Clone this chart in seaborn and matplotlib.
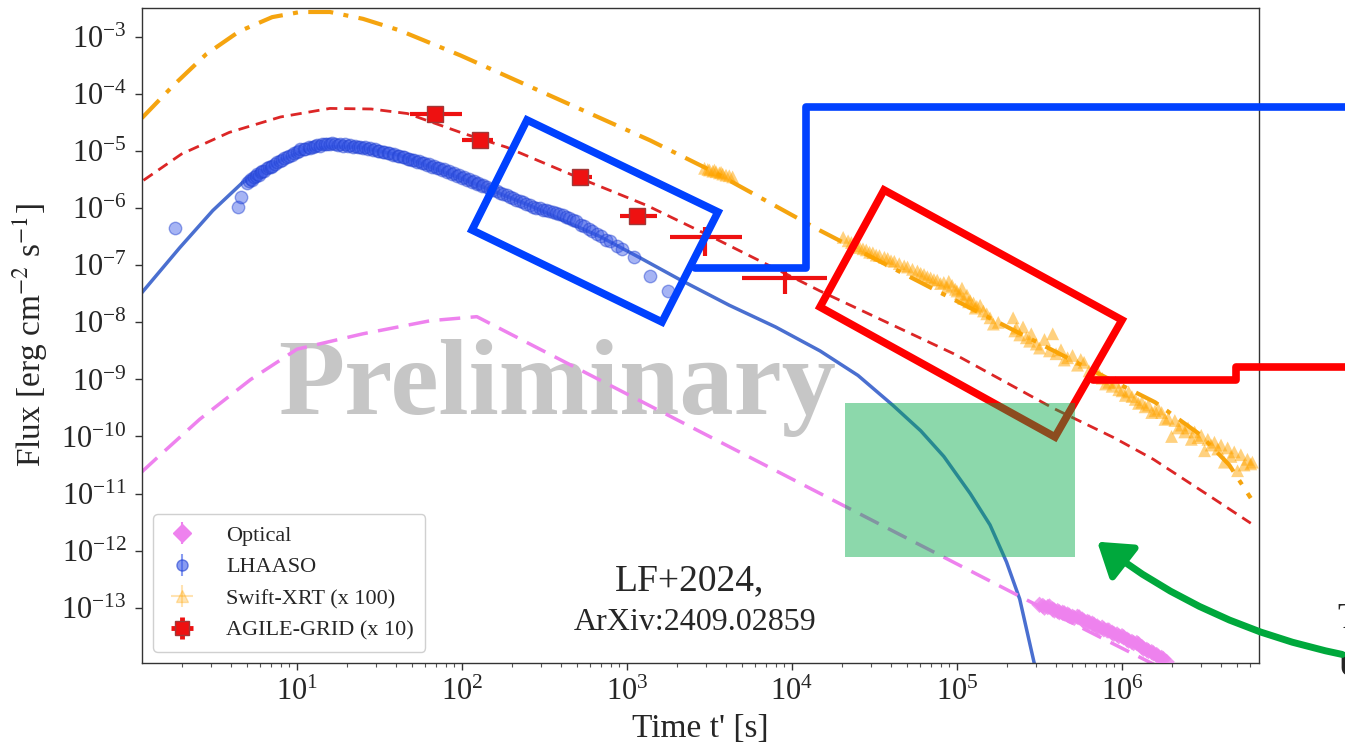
import numpy as np
import matplotlib
matplotlib.use("Agg")
import matplotlib.pyplot as plt
import seaborn as sns
from matplotlib.patches import Polygon, Rectangle, FancyArrowPatch
from matplotlib.lines import Line2D
from matplotlib.ticker import LogLocator, NullLocator

# ---------------- data (log10 of time [s] and log10 of flux) ----------------
# model curves
xrt_model_logt = [0.06, 0.25, 0.45, 0.65, 0.85, 1.02, 1.20, 1.40, 1.62, 1.99, 2.53, 3.14, 3.53, 4.17, 4.96, 5.79, 6.20, 6.47, 6.65, 6.78]
xrt_model_logf = [-4.42, -3.85, -3.30, -2.90, -2.65, -2.56, -2.56, -2.68, -2.88, -3.32, -4.02, -4.81, -5.37, -6.39, -7.57, -8.80, -9.40, -9.96, -10.50, -11.08]

agile_model_logt = [0.07, 0.30, 0.59, 0.90, 1.20, 1.45, 1.67, 2.01, 2.27, 2.72, 3.12, 3.52, 4.17, 4.98, 5.58, 5.95, 6.19, 6.55, 6.78]
agile_model_logf = [-5.51, -5.05, -4.67, -4.40, -4.25, -4.26, -4.34, -4.69, -4.93, -5.48, -5.95, -6.51, -7.45, -8.55, -9.50, -10.02, -10.40, -11.08, -11.52]

lhaaso_model_logt = [0.06, 0.29, 0.49, 0.67, 0.90, 1.05, 1.20, 1.38, 1.62, 2.00, 2.41, 2.84, 3.08, 3.32, 3.62, 3.90, 4.17, 4.40, 4.61, 4.78, 4.92, 5.08, 5.20, 5.30, 5.38, 5.47]
lhaaso_model_logf = [-7.48, -6.69, -6.04, -5.55, -5.16, -4.98, -4.92, -4.93, -5.07, -5.48, -5.95, -6.50, -6.87, -7.25, -7.70, -8.08, -8.50, -8.93, -9.45, -9.90, -10.35, -11.00, -11.55, -12.20, -12.85, -14.00]

optical_model_logt = [0.06, 0.15, 0.41, 0.72, 1.00, 1.40, 1.81, 2.09, 5.50, 6.30]
optical_model_logf = [-10.62, -10.38, -9.70, -9.00, -8.47, -8.20, -7.97, -7.90, -12.98, -14.15]

# LHAASO data
lhaaso_logt = [0.26, 0.64, 0.66, 0.70, 0.71, 0.72, 0.73, 0.74, 0.75, 0.76, 0.77, 0.78, 0.79, 0.80, 0.82, 0.83, 0.84, 0.85,
               0.87, 0.88, 0.90, 0.91, 0.92, 0.94, 0.95, 0.97, 0.98, 1.00, 1.01, 1.02, 1.04, 1.05, 1.07, 1.08, 1.10, 1.11,
               1.12, 1.14, 1.15, 1.17, 1.18, 1.20, 1.21, 1.23, 1.25, 1.26, 1.28, 1.29, 1.31, 1.32, 1.34, 1.35, 1.37, 1.38,
               1.40, 1.41, 1.43, 1.44, 1.46, 1.47, 1.49, 1.50, 1.52, 1.53, 1.55, 1.56, 1.58, 1.59, 1.61, 1.62, 1.64, 1.65,
               1.67, 1.68, 1.70, 1.71, 1.73, 1.74, 1.76, 1.77, 1.79, 1.80, 1.82, 1.83, 1.85, 1.86, 1.88, 1.89, 1.91, 1.92,
               1.94, 1.95, 1.97, 1.98, 2.00, 2.01, 2.03, 2.04, 2.06, 2.07, 2.09, 2.10, 2.12, 2.13, 2.15, 2.17, 2.19, 2.21,
               2.23, 2.25, 2.27, 2.29, 2.31, 2.33, 2.35, 2.37, 2.39, 2.41, 2.43, 2.45, 2.47, 2.49, 2.51, 2.53, 2.55, 2.57,
               2.59, 2.61, 2.63, 2.65, 2.67, 2.69, 2.72, 2.74, 2.77, 2.79, 2.82, 2.84, 2.87, 2.90, 2.94, 2.97, 3.04, 3.14, 3.25]
lhaaso_logf = [-6.34, -5.97, -5.81, -5.55, -5.52, -5.49, -5.50, -5.46, -5.44, -5.40, -5.41, -5.37, -5.35, -5.34, -5.30, -5.27, -5.28, -5.26,
               -5.22, -5.19, -5.17, -5.16, -5.12, -5.11, -5.09, -5.06, -5.04, -5.02, -5.00, -4.97, -4.97, -4.96, -4.93, -4.94, -4.92, -4.90,
               -4.89, -4.91, -4.88, -4.88, -4.87, -4.88, -4.86, -4.87, -4.89, -4.88, -4.90, -4.88, -4.91, -4.89, -4.92, -4.90, -4.93, -4.92,
               -4.95, -4.93, -4.96, -4.95, -4.98, -4.97, -5.00, -4.99, -5.02, -5.01, -5.04, -5.03, -5.06, -5.05, -5.09, -5.08, -5.11, -5.10,
               -5.14, -5.13, -5.16, -5.15, -5.19, -5.18, -5.21, -5.20, -5.24, -5.23, -5.27, -5.26, -5.30, -5.29, -5.33, -5.32, -5.36, -5.35,
               -5.40, -5.38, -5.43, -5.42, -5.47, -5.45, -5.50, -5.49, -5.54, -5.52, -5.57, -5.56, -5.61, -5.59, -5.63, -5.66, -5.68, -5.70,
               -5.73, -5.75, -5.77, -5.80, -5.82, -5.85, -5.87, -5.89, -5.92, -5.95, -5.97, -5.99, -6.00, -6.03, -6.03, -6.05, -6.06, -6.08,
               -6.10, -6.11, -6.15, -6.17, -6.21, -6.23, -6.29, -6.31, -6.37, -6.39, -6.45, -6.48, -6.55, -6.58, -6.66, -6.72, -6.85, -7.18, -7.45]

# Swift-XRT data (x 100)
xrt_logt = [3.47, 3.49, 3.50, 3.52, 3.53, 3.54, 3.56, 3.57, 3.58, 3.60, 3.62, 3.64,
            4.31, 4.34, 4.36, 4.39, 4.41, 4.43, 4.45, 4.47, 4.49, 4.51, 4.53, 4.56, 4.58, 4.60, 4.62, 4.65, 4.68, 4.70,
            4.73, 4.76, 4.78, 4.80, 4.82, 4.84, 4.86, 4.88, 4.90, 4.92, 4.94, 4.95, 4.97, 4.99, 5.00, 5.02, 5.03, 5.04,
            5.06, 5.07, 5.08, 5.10, 5.11, 5.12, 5.14, 5.16, 5.18, 5.20, 5.22, 5.25, 5.34, 5.35, 5.36, 5.38, 5.40, 5.42,
            5.44, 5.45, 5.48, 5.50, 5.53, 5.56, 5.58, 5.60, 5.63, 5.65, 5.67, 5.70, 5.73, 5.75, 5.77, 5.80, 5.82, 5.84,
            5.86, 5.88, 5.90, 5.92, 5.94, 5.96, 5.98, 6.00, 6.02, 6.04, 6.06, 6.08, 6.10, 6.12, 6.14, 6.16, 6.18, 6.20,
            6.22, 6.24, 6.26, 6.28, 6.30, 6.32, 6.34, 6.36, 6.38, 6.40, 6.42, 6.44, 6.46, 6.48, 6.50, 6.52, 6.54, 6.56,
            6.58, 6.60, 6.62, 6.64, 6.66, 6.68, 6.70, 6.72, 6.74, 6.76, 6.78, 6.79]
xrt_logf = [-5.30, -5.32, -5.33, -5.35, -5.33, -5.36, -5.38, -5.37, -5.40, -5.42, -5.43, -5.45,
            -6.51, -6.57, -6.60, -6.66, -6.69, -6.71, -6.73, -6.77, -6.78, -6.82, -6.83, -6.86, -6.88, -6.92, -6.93, -6.97, -7.01, -7.03,
            -7.07, -7.10, -7.14, -7.16, -7.20, -7.22, -7.25, -7.26, -7.32, -7.30, -7.38, -7.28, -7.35, -7.42, -7.45, -7.50, -7.40, -7.58,
            -7.52, -7.64, -7.62, -7.66, -7.75, -7.72, -7.70, -7.80, -7.85, -7.92, -8.03, -8.00, -7.92, -8.15, -8.10, -8.22, -8.08, -8.27,
            -8.33, -8.20, -8.38, -8.45, -8.30, -8.50, -8.20, -8.55, -8.48, -8.66, -8.62, -8.58, -8.75, -8.65, -8.70, -8.85, -8.92, -8.80,
            -8.95, -8.98, -9.08, -9.05, -9.12, -9.05, -9.18, -9.20, -9.28, -9.22, -9.30, -9.35, -9.42, -9.40, -9.48, -9.45, -9.58, -9.55,
            -9.52, -9.58, -9.70, -9.68, -10.00, -9.72, -9.85, -9.80, -9.92, -9.85, -10.05, -9.92, -10.02, -9.98, -10.25, -10.05, -10.15, -10.10,
            -10.22, -10.15, -10.45, -10.20, -10.35, -10.27, -10.60, -10.32, -10.50, -10.40, -10.48, -10.45]

# Optical data
optical_logt = [5.50, 5.52, 5.53, 5.55, 5.56, 5.58, 5.59, 5.61, 5.62, 5.64, 5.65, 5.67, 5.68, 5.70, 5.71, 5.73, 5.74, 5.76,
                5.77, 5.79, 5.80, 5.82, 5.83, 5.85, 5.86, 5.88, 5.89, 5.91, 5.92, 5.94, 5.95, 5.97, 5.98, 6.00, 6.01, 6.03,
                6.04, 6.06, 6.07, 6.09, 6.10, 6.12, 6.13, 6.15, 6.16, 6.18, 6.19, 6.21, 6.22, 6.24, 6.25, 6.27]
optical_logf = [-12.95, -12.97, -13.00, -12.99, -12.98, -13.03, -13.05, -13.06, -13.08, -13.09, -13.10, -13.12, -13.14, -13.16, -13.18, -13.16,
                -13.17, -13.21, -13.24, -13.25, -13.26, -13.28, -13.30, -13.33, -13.36, -13.35, -13.38, -13.40, -13.40, -13.44, -13.46, -13.47,
                -13.50, -13.50, -13.52, -13.56, -13.58, -13.60, -13.62, -13.62, -13.64, -13.69, -13.72, -13.74, -13.76, -13.78, -13.80, -13.83,
                -13.86, -13.88, -13.90, -13.95]

# AGILE-GRID data (x 10): centre, x-range, y-range
agile_logt = [1.836, 2.11, 2.715, 3.06, 3.47, 3.96]
agile_logt_lo = [1.685, 2.00, 2.67, 2.96, 3.26, 3.70]
agile_logt_hi = [2.00, 2.19, 2.79, 3.18, 3.70, 4.21]
agile_logf = [-4.35, -4.81, -5.46, -6.13, -6.50, -7.22]
agile_logf_lo = [-4.42, -4.88, -5.52, -6.22, -6.83, -7.50]
agile_logf_hi = [-4.28, -4.74, -5.40, -6.06, -6.33, -7.05]

legend_labels = ["Optical", "LHAASO", "Swift-XRT (x 100)", "AGILE-GRID (x 10)"]

# ---------------- style ----------------
sns.set_theme(style="ticks")
plt.rcParams['font.family'] = ['Liberation Serif', 'DejaVu Serif']
plt.rcParams['mathtext.fontset'] = 'stix'

W, H = 1345, 756
fig = plt.figure(figsize=(W / 100, H / 100), dpi=100)
fig.patch.set_facecolor('white')
ax = fig.add_axes([142 / W, 93 / H, 1117 / W, 655 / H])
ax.set_xscale('log')
ax.set_yscale('log')
ax.set_xlim(10 ** 0.061, 10 ** 6.83)
ax.set_ylim(10 ** -13.97, 10 ** -2.49)
ax.yaxis.set_major_locator(LogLocator(base=10, numticks=30))
ax.yaxis.set_minor_locator(NullLocator())

p = lambda a: 10 ** np.asarray(a, dtype=float)

C_ORANGE = '#f5a40f'
C_RED = '#dc2626'
C_BLUE = '#4a6fd0'
C_VIOLET = '#ee82ee'

sns.lineplot(x=p(xrt_model_logt), y=p(xrt_model_logf), ax=ax, sort=False, estimator=None,
             color=C_ORANGE, lw=3, linestyle=(0, (6, 2.5, 1.2, 2.5)), zorder=2)
sns.lineplot(x=p(agile_model_logt), y=p(agile_model_logf), ax=ax, sort=False, estimator=None,
             color=C_RED, lw=2, linestyle=(0, (4, 2.5)), zorder=2)
sns.lineplot(x=p(lhaaso_model_logt), y=p(lhaaso_model_logf), ax=ax, sort=False, estimator=None,
             color=C_BLUE, lw=2.5, zorder=2)
sns.lineplot(x=p(optical_model_logt), y=p(optical_model_logf), ax=ax, sort=False, estimator=None,
             color=C_VIOLET, lw=2.5, linestyle=(0, (6, 3)), zorder=2)

sns.scatterplot(x=p(lhaaso_logt), y=p(lhaaso_logf), ax=ax, marker='o', s=80,
                color='#3a5ae8', alpha=0.45, edgecolor='#2040d0', linewidth=1, zorder=3)
sns.scatterplot(x=p(xrt_logt), y=p(xrt_logf), ax=ax, marker='^', s=85,
                color='#ffa500', alpha=0.5, edgecolor='none', zorder=3)
sns.scatterplot(x=p(optical_logt), y=p(optical_logf), ax=ax, marker='D', s=70,
                color=C_VIOLET, alpha=0.8, edgecolor='none', zorder=3)

at = p(agile_logt)
af = p(agile_logf)
xerr = [at - p(agile_logt_lo), p(agile_logt_hi) - at]
yerr = [af - p(agile_logf_lo), p(agile_logf_hi) - af]
ax.errorbar(at[:4], af[:4], xerr=[xerr[0][:4], xerr[1][:4]], yerr=[yerr[0][:4], yerr[1][:4]],
            fmt='s', color='#ee1111', ms=11, mec='#a03838', mew=1, elinewidth=3, capsize=0, zorder=4)
ax.errorbar(at[4:], af[4:], xerr=[xerr[0][4:], xerr[1][4:]], yerr=[yerr[0][4:], yerr[1][4:]],
            fmt='none', ecolor='#ee1111', elinewidth=3, capsize=0, zorder=4)

# legend proxies (error-bar style entries)
nan = [np.nan]
h1 = ax.errorbar(nan, nan, yerr=[1], fmt='D', color=C_VIOLET, ms=9, elinewidth=1.5)
h2 = ax.errorbar(nan, nan, yerr=[1], fmt='o', color='#3a5ae8', alpha=0.6, ms=8, mec='#2040d0', elinewidth=1.5)
h3 = ax.errorbar(nan, nan, xerr=[1], yerr=[1], fmt='^', color='#ffa500', alpha=0.3, ms=8, elinewidth=1.5)
h4 = ax.errorbar(nan, nan, xerr=[1], yerr=[1], fmt='s', color='#ee1111', ms=10, mec='#a03838', elinewidth=3.5)
leg = ax.legend([h1, h2, h3, h4], legend_labels, loc='lower left', fontsize=16, frameon=True,
                fancybox=True, framealpha=1, edgecolor='#d0d0d0', handlelength=1.6,
                borderpad=0.5, labelspacing=0.5, handletextpad=1.2, borderaxespad=0.5)

# axes cosmetics
for s in ax.spines.values():
    s.set_color('#333333')
    s.set_linewidth(1.0)
ax.tick_params(axis='both', which='major', labelsize=22, direction='out', length=5, width=1,
               color='#333333', pad=6)
ax.tick_params(axis='x', which='minor', direction='out', length=3, width=0.8, color='#555555')
ax.set_xlabel("Time t' [s]", fontsize=24, labelpad=4)
ax.set_ylabel(r"Flux [erg cm$^{-2}$ s$^{-1}$]", fontsize=24, labelpad=8)

ax.text(0.372, 0.42, 'Preliminary', transform=ax.transAxes, fontsize=78, fontweight='bold',
        color='#c6c6c6', ha='center', va='center', zorder=1)
ax.text(0.49, 0.125, 'LF+2024,', transform=ax.transAxes, fontsize=27, ha='center', va='center', zorder=5)
ax.text(0.495, 0.062, 'ArXiv:2409.02859', transform=ax.transAxes, fontsize=23, ha='center', va='center', zorder=5)

# ---------------- slide overlays (figure pixel positions) ----------------
P = lambda x, y: (x / W, 1 - y / H)
BLUE = '#0041ff'
RED = '#ff0000'
GREEN = '#00a83c'

fig.add_artist(Polygon([P(527, 120), P(718, 212), P(662, 322), P(472, 230)], closed=True, fill=False,
                       edgecolor=BLUE, lw=5.5, transform=fig.transFigure, zorder=10))
fig.add_artist(Line2D(*zip(P(695, 268), P(806, 268), P(806, 107), P(1345, 107)), color=BLUE, lw=5.5,
                      transform=fig.transFigure, zorder=10, solid_joinstyle='round'))
fig.add_artist(Polygon([P(884, 190), P(1122, 320), P(1055, 437), P(820, 307)], closed=True, fill=False,
                       edgecolor=RED, lw=5.5, transform=fig.transFigure, zorder=10))
fig.add_artist(Line2D(*zip(P(1093, 380), P(1236, 380), P(1236, 367), P(1345, 367)), color=RED, lw=5.5,
                      transform=fig.transFigure, zorder=10, solid_joinstyle='round'))
x0, y0 = P(845, 557)
x1, y1 = P(1075, 403)
fig.add_artist(Rectangle((x0, y0), x1 - x0, y1 - y0, facecolor='#00aa46', alpha=0.45, edgecolor='none',
                         transform=fig.transFigure, zorder=11))
fig.add_artist(FancyArrowPatch(P(1345, 655), P(1095, 540), connectionstyle='arc3,rad=-0.12',
                               arrowstyle='-|>,head_length=0.9,head_width=0.6', mutation_scale=22,
                               color=GREEN, lw=5, transform=fig.transFigure, zorder=12))
fig.text(1337 / W, 1 - 620 / H, 'T', fontsize=26, va='center', ha='left')
fig.text(1337 / W, 1 - 668 / H, 'U', fontsize=26, fontweight='bold', va='center', ha='left')

fig.savefig('out.png', dpi=100)
